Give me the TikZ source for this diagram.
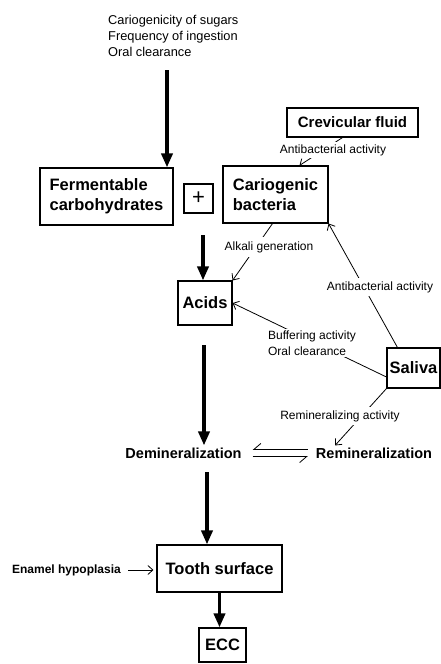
\documentclass[tikz,border=0pt]{standalone}
\usepackage{fontspec}
\setmainfont{Liberation Sans}
\usetikzlibrary{arrows.meta,calc}
\begin{document}
\begin{tikzpicture}[x=1pt,y=-1pt,
  box/.style={draw,line width=1.1pt,inner sep=0pt,align=center,font=\fontsize{16.5}{20}\selectfont\bfseries},
  bigarrow/.style={line width=3.6pt,-{Triangle[length=14pt,width=11pt]}},
  thinarrow/.style={line width=0.8pt,-{Straight Barb[length=5pt,width=9pt]}},
  harp/.style={line width=0.8pt,-{Straight Barb[harpoon,swap,length=7pt,width=12pt]}},
  lbl/.style={fill=white,inner sep=2pt,align=left,font=\fontsize{12}{15.5}\selectfont},
  midtext/.style={font=\fontsize{14.5}{17}\selectfont\bfseries,inner sep=2pt}]
\useasboundingbox (0,0) rectangle (441,664);

% nodes
\node[lbl,anchor=west,font=\fontsize{12.8}{16}\selectfont] (factors) at (106,36) {Cariogenicity of sugars\\Frequency of ingestion\\Oral clearance};
\node[box,align=left,minimum width=133pt,minimum height=57pt] (ferm) at (106.5,196.5) {Fermentable\\carbohydrates};
\node[box,minimum size=29pt,font=\fontsize{22}{22}\selectfont] (plus) at (198.5,198.5) {+};
\node[box,align=left,minimum width=105pt,minimum height=57pt] (cario) at (275.5,194.5) {Cariogenic\\bacteria};
\node[box,minimum width=131pt,minimum height=29pt,font=\fontsize{15}{18}\selectfont\bfseries] (crev) at (352.5,122.5) {Crevicular fluid};
\node[box,minimum width=54pt,minimum height=44pt] (acids) at (205,303) {Acids};
\node[box,minimum width=53pt,minimum height=40pt] (saliva) at (413.5,368) {Saliva};
\node[midtext] (demin) at (183.5,453) {Demineralization};
\node[midtext] (remin) at (374,453) {Remineralization};
\node[box,minimum width=125pt,minimum height=47pt] (tooth) at (219.5,568.5) {Tooth surface};
\node[box,minimum width=47pt,minimum height=34pt] (ecc) at (222.5,645) {ECC};
\node[font=\fontsize{12}{14}\selectfont\bfseries] (enamel) at (66.5,570) {Enamel hypoplasia};

% thick arrows
\coordinate (a1) at (167,70);
\draw[bigarrow] (a1) -- (a1 |- ferm.north);
\coordinate (a2) at (203,235);
\draw[bigarrow] (a2) -- (a2 |- acids.north);
\coordinate (a3) at (204,345);
\draw[bigarrow] (a3) -- (a3 |- demin.north);
\coordinate (a4) at (207,472);
\draw[bigarrow] (a4) -- (a4 |- tooth.north);
\draw[bigarrow] (tooth.south) -- (tooth.south |- ecc.north);

% thin connectors
\draw[thinarrow] ([xshift=-10pt]crev.south) -- ([xshift=24pt]cario.north);
\node[lbl] (l1) at (333,150) {Antibacterial activity};

\draw[thinarrow] ([xshift=-3pt]cario.south) -- (acids.north east);
\node[lbl,inner sep=4pt] (l2) at (269,247) {Alkali generation};

\draw[thinarrow] ([xshift=11pt]saliva.north west) -- (cario.south east);
\node[lbl,inner sep=3pt] (l3) at (380,287) {Antibacterial activity};

\draw[thinarrow] ([yshift=-9pt]saliva.west) -- (acids.east);
\node[lbl] (l4) at (312,343) {Buffering activity\\Oral clearance};

\draw[thinarrow] (saliva.south west) -- ([xshift=-39pt]remin.north);
\node[lbl,inner sep=3pt] (l5) at (340,416) {Remineralizing activity};

% equilibrium
\draw[harp] ([xshift=-6pt,yshift=3.5pt]remin.west) -- ([xshift=9pt,yshift=3.5pt]demin.east);
\draw[harp] ([xshift=9pt,yshift=-3.5pt]demin.east) -- ([xshift=-6pt,yshift=-3.5pt]remin.west);

% enamel
\draw[thinarrow,shorten <=4pt,shorten >=3pt] (enamel.east) -- (enamel.east -| tooth.west);
\end{tikzpicture}
\end{document}
